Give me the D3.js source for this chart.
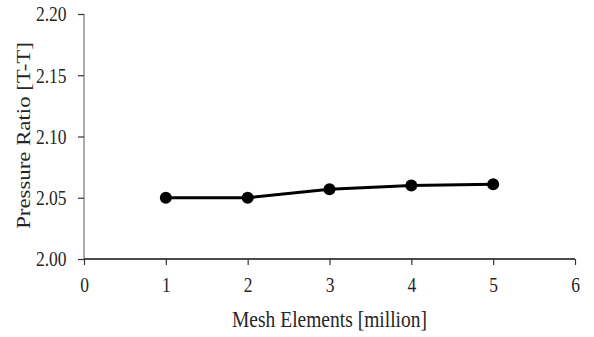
<!DOCTYPE html>
<html>
<head>
<meta charset="utf-8">
<script src="https://cdn.jsdelivr.net/npm/d3@7"></script>
<style>
  body { margin: 0; background: #fff; }
</style>
</head>
<body>
<script>
// data
var meshElements = [1, 2, 3, 4, 5];
var pressureRatio = [2.050, 2.050, 2.057, 2.060, 2.061];
var xTicks = [0, 1, 2, 3, 4, 5, 6];
var yTicks = [2.00, 2.05, 2.10, 2.15, 2.20];

var width = 594;
var height = 337;
var margin = {top: 14, right: 19, bottom: 78, left: 84};
var plotW = width - margin.left - margin.right;
var plotH = height - margin.top - margin.bottom;

// the source picture is a little stretched vertically, text too
var stretch = 1.17;
var serif = "'Liberation Serif', 'Times New Roman', serif";
var textColor = "#262626";

var svg = d3.select("body").append("svg")
    .attr("width", width)
    .attr("height", height);

var g = svg.append("g")
    .attr("transform", "translate(" + margin.left + "," + margin.top + ")");

var x = d3.scaleLinear().domain([0, 6]).range([0, plotW]);
var y = d3.scaleLinear().domain([2.00, 2.20]).range([plotH, 0]);

// y axis (grey line)
var yAxis = g.append("g")
    .call(d3.axisLeft(y).tickValues(yTicks).tickFormat(d3.format(".2f")).tickSize(6).tickPadding(11.5));
yAxis.select(".domain").attr("stroke", "#808080").attr("stroke-width", 1.3).attr("d", "M0,0V" + plotH);
yAxis.selectAll(".tick line").attr("stroke", "#333").attr("stroke-width", 1.2);
yAxis.selectAll(".tick text")
    .attr("transform", "scale(1," + stretch + ")")
    .attr("dy", "0.33em")
    .attr("fill", textColor)
    .style("font-family", serif)
    .style("font-size", "17.5px");

// x axis (black line)
var xAxis = g.append("g")
    .attr("transform", "translate(0," + plotH + ")")
    .call(d3.axisBottom(x).tickValues(xTicks).tickFormat(d3.format("d")).tickSize(6));
xAxis.select(".domain").attr("stroke", "#111").attr("stroke-width", 1.5).attr("d", "M0,0H" + plotW);
xAxis.selectAll(".tick line").attr("stroke", "#333").attr("stroke-width", 1.2);
xAxis.selectAll(".tick text")
    .attr("transform", "scale(1," + stretch + ")")
    .attr("y", 33 / stretch)
    .attr("dy", 0)
    .attr("fill", textColor)
    .style("font-family", serif)
    .style("font-size", "17.5px");

// line with markers
var line = d3.line()
    .x(function(d, i) { return x(meshElements[i]); })
    .y(function(d) { return y(d); });

g.append("path")
    .datum(pressureRatio)
    .attr("fill", "none")
    .attr("stroke", "#000")
    .attr("stroke-width", 3)
    .attr("d", line);

g.selectAll("circle")
    .data(pressureRatio)
    .enter()
    .append("circle")
    .attr("cx", function(d, i) { return x(meshElements[i]); })
    .attr("cy", function(d) { return y(d); })
    .attr("r", 6)
    .attr("fill", "#000");

// axis titles
svg.append("text")
    .attr("transform", "translate(" + (margin.left + plotW / 2) + ",327) scale(1," + stretch + ")")
    .attr("text-anchor", "middle")
    .attr("fill", textColor)
    .style("font-family", serif)
    .style("font-size", "19.5px")
    .text("Mesh Elements [million]");

svg.append("text")
    .attr("transform", "translate(30,135.5) scale(1," + stretch + ") rotate(-90)")
    .attr("text-anchor", "middle")
    .attr("fill", textColor)
    .style("font-family", serif)
    .style("font-size", "19.5px")
    .text("Pressure Ratio [T-T]");
</script>
</body>
</html>
